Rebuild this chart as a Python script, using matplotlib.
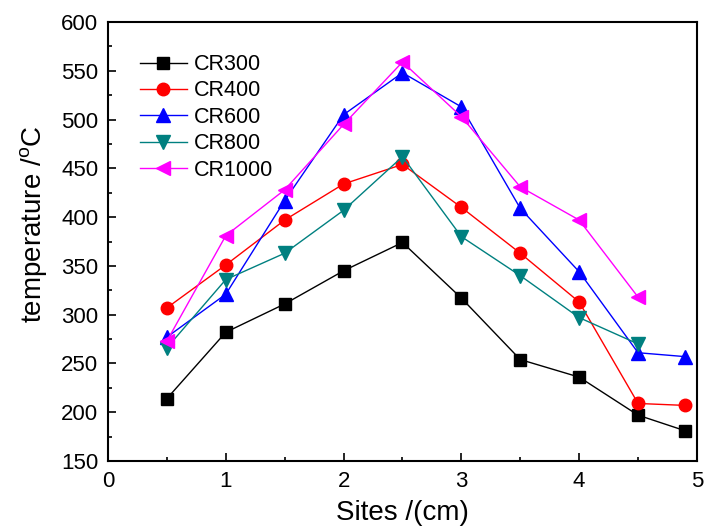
import numpy as np
import matplotlib.pyplot as plt

plt.rcParams['font.family'] = ['Liberation Sans', 'DejaVu Sans']
plt.rcParams['mathtext.default'] = 'regular'

# measurement sites (cm)
sites_long = [0.5, 1, 1.5, 2, 2.5, 3, 3.5, 4, 4.5, 4.9]
sites_short = [0.5, 1, 1.5, 2, 2.5, 3, 3.5, 4, 4.5]

# temperatures (C)
cr300 = [214, 282, 311, 345, 374, 317, 254, 236, 197, 181]
cr400 = [307, 351, 397, 434, 454, 410, 363, 313, 209, 207]
cr600 = [277, 321, 417, 505, 548, 513, 409, 344, 261, 257]
cr800 = [266, 336, 363, 407, 462, 380, 340, 297, 270]
cr1000 = [273, 381, 428, 495, 559, 503, 431, 397, 318]


def main():
    fig = plt.figure(figsize=(7.04, 5.29), dpi=100)
    ax = fig.add_axes([0.1534, 0.1285, 0.8366, 0.8299])

    ax.plot(sites_long, cr300, color='black', marker='s', ms=8, lw=1, label='CR300')
    ax.plot(sites_long, cr400, color='red', marker='o', ms=9, lw=1, label='CR400')
    ax.plot(sites_long, cr600, color='blue', marker='^', ms=9.5, lw=1, label='CR600')
    ax.plot(sites_short, cr800, color='#008080', marker='v', ms=9.5, lw=1, label='CR800')
    ax.plot(sites_short, cr1000, color='magenta', marker='<', ms=9.5, lw=1, label='CR1000')

    ax.set_xlim(0, 5)
    ax.set_ylim(150, 600)
    ax.set_xticks(np.arange(0, 6, 1))
    ax.set_xticks(np.arange(0.5, 5, 1), minor=True)
    ax.set_yticks(np.arange(150, 601, 50))
    ax.set_yticks(np.arange(175, 600, 50), minor=True)
    ax.tick_params(which='both', direction='in', labelsize=16, width=1.2)
    ax.tick_params(which='major', length=6, pad=7)
    ax.tick_params(which='minor', length=3)
    for s in ax.spines.values():
        s.set_linewidth(1.5)

    ax.set_xlabel('Sites /(cm)', fontsize=20, labelpad=6)
    ax.set_ylabel('temperature /$^{o}$C', fontsize=20)
    ax.yaxis.set_label_coords(-0.10, 0.54)

    ax.legend(loc='upper left', frameon=False, fontsize=15.5, handlelength=2.2,
              bbox_to_anchor=(0.054, 0.927), borderaxespad=0, borderpad=0,
              labelspacing=0.25, handletextpad=0.3)

    fig.savefig('out.png', dpi=100)


if __name__ == "__main__":
    main()
